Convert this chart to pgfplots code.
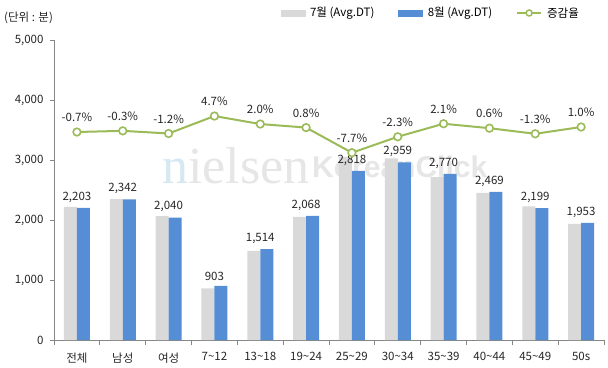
\documentclass[border=0pt]{standalone}
\usepackage{pgfplots}
\pgfplotsset{compat=1.18}
\usepackage{pgfplotstable}
\usepackage{fontspec}
\setmainfont{Noto Sans CJK KR}
\newfontfamily\wmserif{Liberation Serif}
\newfontfamily\wmsans{Liberation Sans}
\definecolor{graybar}{HTML}{D9D9D9}
\definecolor{bluebar}{HTML}{558ED5}
\definecolor{linegreen}{HTML}{9BBB59}
\definecolor{axisgray}{HTML}{868686}
\definecolor{txt}{HTML}{262626}
\definecolor{wmgray}{HTML}{E6E6E6}
\definecolor{wmblue}{HTML}{D6E8F2}

\pgfplotstableread{
x jul aug
0 2219 2203
1 2349 2342
2 2065 2040
3 862 903
4 1484 1514
5 2052 2068
6 3053 2818
7 3029 2959
8 2713 2770
9 2454 2469
10 2228 2199
11 1934 1953
}\bars

\pgfplotstableread{
x p
0 -0.7
1 -0.3
2 -1.2
3 4.7
4 2.0
5 0.8
6 -7.7
7 -2.3
8 2.1
9 0.6
10 -1.3
11 1.0
}\rate

\begin{document}
\begin{tikzpicture}[font=\fontsize{11.5bp}{13bp}\selectfont]
\path[use as bounding box] (0,0) rectangle (608bp,368bp);
% watermark
\node[anchor=base west, inner sep=0, font=\wmserif\fontsize{52bp}{52bp}\selectfont] at (162bp,184bp) {\textcolor{wmblue}{n}\textcolor{wmgray}{ielsen}};
\node[anchor=base west, inner sep=0, font=\wmsans\bfseries\fontsize{30bp}{30bp}\selectfont, text=wmgray] at (312bp,190bp) {KoreanClick};
\node[anchor=west, inner sep=0, text=txt] at (4bp,350.5bp) {(단위 : 분)};

\begin{axis}[
  at={(54bp,28bp)}, anchor=south west, scale only axis,
  width=550bp, height=300bp,
  xmin=-0.5, xmax=11.5, ymin=0, ymax=5000,
  enlargelimits=false, clip=false,
  axis x line*=bottom, axis y line*=left,
  axis line style={draw=axisgray, line width=0.75bp},
  tick align=outside, major tick length=4bp, minor tick length=5bp,
  ytick={0,1000,2000,3000,4000,5000},
  yticklabels={0,{1,000},{2,000},{3,000},{4,000},{5,000}},
  y tick style={draw=axisgray, line width=0.75bp},
  xtick={0,...,11},
  xticklabels={전체,남성,여성,7\textasciitilde 12,13\textasciitilde 18,19\textasciitilde 24,25\textasciitilde 29,30\textasciitilde 34,35\textasciitilde 39,40\textasciitilde 44,45\textasciitilde 49,50s},
  major x tick style={draw=none},
  minor xtick={-0.5,0.5,...,11.5},
  minor x tick style={draw=axisgray, line width=0.75bp},
  tick label style={text=txt},
  xticklabel style={yshift=-5bp},
  yticklabel style={xshift=-3bp},
  bar width=13bp,
  /pgf/number format/.cd, 1000 sep={,}, assume math mode=true, /pgfplots/.cd,
  legend style={at={(0.685,1.09)}, anchor=center, draw=none, fill=none,
    /tikz/every odd column/.append style={column sep=3bp},
    /tikz/every even column/.append style={column sep=22bp}},
  legend columns=3,
]
\addplot[ybar, bar shift=-6.5bp, fill=graybar, draw=none, forget plot] table[x=x,y=jul]{\bars};
\addplot[ybar, bar shift=6.5bp, fill=bluebar, draw=none, forget plot, nodes near coords,
  nodes near coords style={text=txt, anchor=south, yshift=2bp}] table[x=x,y=aug]{\bars};
\addlegendimage{legend image code/.code={\fill[graybar] (0bp,-3.2bp) rectangle (24bp,3.2bp);}}
\addlegendentry{7월 (Avg.DT)}
\addlegendimage{legend image code/.code={\fill[bluebar] (0bp,-3.2bp) rectangle (24bp,3.2bp);}}
\addlegendentry{8월 (Avg.DT)}
\addlegendimage{legend image code/.code={\draw[linegreen,line width=2bp] (0bp,0bp)--(24bp,0bp); \draw[linegreen,line width=1.5bp,fill=white] (12bp,0bp) circle (3bp);}}
\addlegendentry{증감율}
\end{axis}

\begin{axis}[
  at={(54bp,28bp)}, anchor=south west, scale only axis,
  width=550bp, height=300bp,
  xmin=-0.5, xmax=11.5, ymin=-71.01, ymax=30.41,
  hide axis, clip=false,
  /pgf/number format/assume math mode=true,
]
\addplot[linegreen, line width=2bp, mark=*, mark size=3.8bp,
  mark options={fill=white, line width=1.6bp},
  point meta=y,
  nodes near coords={\pgfmathprintnumber[fixed,fixed zerofill,precision=1]{\pgfplotspointmeta}\%},
  nodes near coords align={anchor=south},
  nodes near coords style={text=txt, anchor=south, yshift=6bp}] table[x=x,y=p]{\rate};
\end{axis}
\end{tikzpicture}
\end{document}
